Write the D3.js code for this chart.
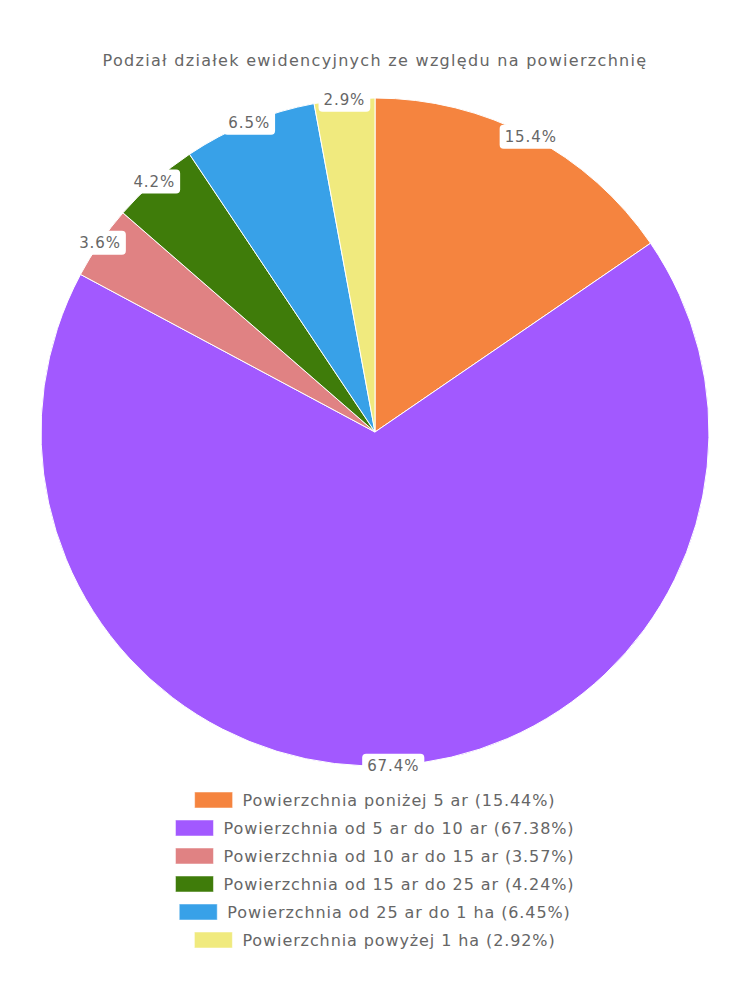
<!DOCTYPE html>
<html>
<head>
<meta charset="utf-8">
<script src="https://cdn.jsdelivr.net/npm/d3@7"></script>
<style>
  body { margin: 0; background: #fff; }
  text { font-family: "DejaVu Sans", sans-serif; letter-spacing: 0.9px; }
</style>
</head>
<body>
<div id="chart"></div>
<script>
const width = 750;
const height = 1000;

const title = 'Podział działek ewidencyjnych ze względu na powierzchnię';
const categories = [
  'Powierzchnia poniżej 5 ar',
  'Powierzchnia od 5 ar do 10 ar',
  'Powierzchnia od 10 ar do 15 ar',
  'Powierzchnia od 15 ar do 25 ar',
  'Powierzchnia od 25 ar do 1 ha',
  'Powierzchnia powyżej 1 ha'
];
const values = [15.44, 67.38, 3.57, 4.24, 6.45, 2.92];
const colors = ['#F5843F', '#A259FF', '#E08283', '#3F7C0A', '#38A1E8', '#F0EA7E'];

const cx = 375, cy = 432, radius = 334;

const svg = d3.select('#chart')
  .append('svg')
  .attr('width', width)
  .attr('height', height);

svg.append('text')
  .attr('x', width / 2)
  .attr('y', 66)
  .attr('text-anchor', 'middle')
  .attr('font-size', '16px')
  .attr('fill', '#666')
  .style('letter-spacing', '1.3px')
  .text(title);

const data = categories.map((c, i) => ({ name: c, value: values[i], color: colors[i] }));

const pie = d3.pie().sort(null).value(d => d.value);
const arc = d3.arc().innerRadius(0).outerRadius(radius);
const arcs = pie(data);

const g = svg.append('g').attr('transform', `translate(${cx},${cy})`);

g.selectAll('path')
  .data(arcs)
  .join('path')
    .attr('d', arc)
    .attr('fill', d => d.data.color)
    .attr('stroke', '#fff')
    .attr('stroke-width', 1);

// labels at the outer edge of each slice
const labelArc = d3.arc().innerRadius(radius).outerRadius(radius);
const lab = g.selectAll('g.lab')
  .data(arcs)
  .join('g')
    .attr('class', 'lab')
    .attr('transform', d => `translate(${labelArc.centroid(d)})`);

lab.append('text')
  .attr('text-anchor', 'middle')
  .attr('dy', '0.35em')
  .attr('font-size', '15px')
  .attr('fill', '#666')
  .text(d => d.data.value.toFixed(1) + '%');

lab.each(function() {
  const t = d3.select(this).select('text');
  const b = t.node().getBBox();
  d3.select(this).insert('rect', 'text')
    .attr('x', b.x - 5)
    .attr('y', b.y - 3)
    .attr('width', b.width + 10)
    .attr('height', b.height + 6)
    .attr('rx', 4)
    .attr('fill', '#fff');
});

// legend
const legend = svg.append('g');
const rowH = 28;
const legendTop = 800;

const items = legend.selectAll('g')
  .data(data)
  .join('g');

items.append('text')
  .attr('x', 48)
  .attr('y', (d, i) => legendTop + i * rowH)
  .attr('dy', '0.35em')
  .attr('font-size', '16px')
  .attr('fill', '#666')
  .text(d => `${d.name} (${d.value.toFixed(2)}%)`);

items.append('rect')
  .attr('x', 0)
  .attr('y', (d, i) => legendTop + i * rowH - 8)
  .attr('width', 38)
  .attr('height', 16)
  .attr('fill', d => d.color)
  .attr('stroke', '#fff')
  .attr('stroke-opacity', 0.5);

items.each(function() {
  const w = this.getBBox().width;
  d3.select(this).attr('transform', `translate(${(width - w) / 2},0)`);
});
</script>
</body>
</html>
